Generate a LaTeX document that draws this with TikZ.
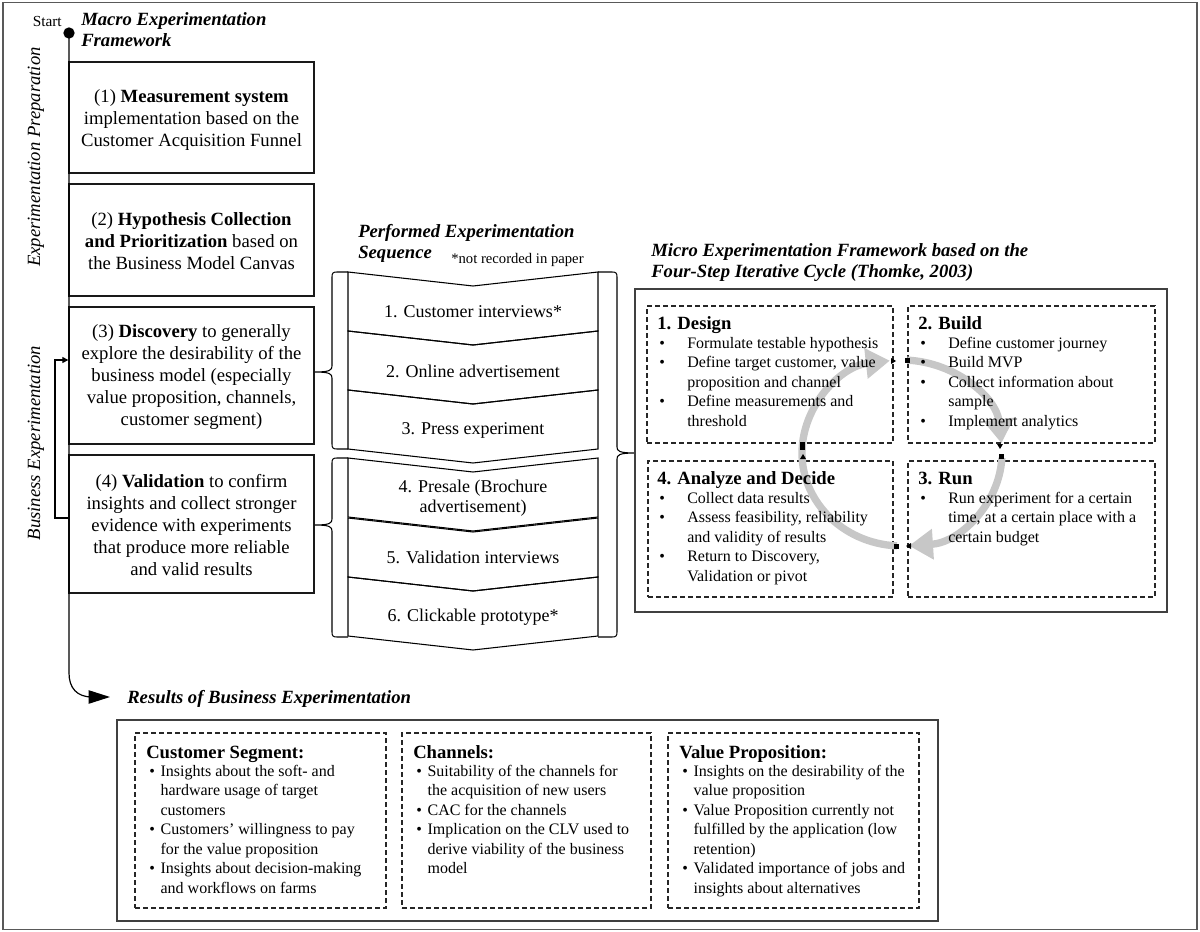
\documentclass[tikz,border=0pt]{standalone}
\usepackage{fontspec}
\setmainfont{Liberation Serif}
\usetikzlibrary{arrows.meta,fit,calc}
\newcommand{\mbul}{\makebox[21pt][l]{\textbullet}}
\newcommand{\mcont}{\hspace*{21pt}}
\newcommand{\rbul}{\makebox[8.5pt][l]{\textbullet}}
\newcommand{\rcont}{\hspace*{8.5pt}}
\begin{document}
\begin{tikzpicture}[x=0.75pt,y=-0.75pt,
  frame/.style={draw=black!65,line width=1.3pt},
  box/.style={draw=black!90,line width=1pt,inner sep=0pt},
  bigbox/.style={draw=black!75,line width=1.3pt,inner sep=0pt},
  dbox/.style={draw=black!85,line width=0.9pt,dash pattern=on 3.6pt off 2.4pt,inner sep=0pt},
  boxtxt/.style={align=center,inner sep=0pt,font=\fontsize{14}{16.5}\selectfont},
  chevtxt/.style={align=center,inner sep=0pt,font=\fontsize{13.5}{15}\selectfont},
  ttl/.style={align=left,inner sep=0pt,anchor=base west,font=\bfseries\itshape\fontsize{14}{15.4}\selectfont},
  sidelbl/.style={rotate=90,inner sep=0pt,font=\itshape\fontsize{14}{16}\selectfont},
  subttl/.style={inner sep=0pt,anchor=base west,font=\bfseries\fontsize{14}{16}\selectfont},
  body/.style={align=left,inner sep=0pt,anchor=base west,font=\fontsize{12}{14.6}\selectfont},
  line/.style={draw=black,line width=0.9pt},
  garrow/.style={draw=black!22,line width=5.5pt,-{Triangle[length=18pt,width=22pt]}},
  cmark/.style={fill=black}
]
\useasboundingbox (0,0) rectangle (1200,932);
\draw[frame] (3,2.5) rectangle (1197,929.5);

% ---------- Macro framework ----------
\node[circle,fill=black,inner sep=0pt,minimum size=8.5pt] (start) at (69,33) {};
\node[inner sep=0pt,anchor=base east,font=\fontsize{11.5}{13}\selectfont] (starttxt) at (62,26) {Start};
\node[ttl] (macro) at (81,46.5) {Macro Experimentation\\Framework};

\node[box,fit={(69,62)(314,173)}] (m1) {};
\node[box,fit={(69,184)(314,296)}] (m2) {};
\node[box,fit={(69,307)(314,444)}] (m3) {};
\node[box,fit={(69,455)(314,593)}] (m4) {};
\node[boxtxt] (t1) at (191.5,120) {(1) \textbf{Measurement system}\\implementation based on the\\Customer Acquisition Funnel};
\node[boxtxt] (t2) at (191.5,241) {(2) \textbf{Hypothesis Collection}\\\textbf{and Prioritization} based on\\the Business Model Canvas};
\node[boxtxt] (t3) at (191.5,377) {(3) \textbf{Discovery} to generally\\explore the desirability of the\\business model (especially\\value proposition, channels,\\customer segment)};
\node[boxtxt] (t4) at (191.5,525) {(4) \textbf{Validation} to confirm\\insights and collect stronger\\evidence with experiments\\that produce more reliable\\and valid results};

\node[sidelbl] (prep) at (36,157) {Experimentation Preparation};
\node[sidelbl] (bexp) at (36,443) {Business Experimentation};

\coordinate (arrend) at (110,697);
\draw[line,-{Triangle[length=16pt,width=10pt]}] (start.center) -- (69,673) .. controls (69,688) and (77,697) .. (92,697) -- (arrend);
\draw[line,-{Triangle[length=4.5pt,width=4.5pt]}] (m4.west |- 0,518) -- (55,518) -- (55,360) -- (m3.west |- 0,360);

\node[ttl] (restitle) at (127,703) {Results of Business Experimentation};

% ---------- Performed sequence ----------
\node[ttl] (seqtitle) at (358,258.5) {Performed Experimentation\\Sequence};
\node[inner sep=0pt,anchor=base west,font=\fontsize{11}{13}\selectfont] (note) at (451,263) {*not recorded in paper};

\foreach \yt in {272,331,390,458,518,577}{
  \draw[line,line width=0.8pt] (348,\yt) -- (473,\yt+14) -- (598,\yt) -- (598,\yt+59) -- (473,\yt+73) -- (348,\yt+59) -- cycle;
}
\node[chevtxt] (c1) at (473,312) {1. Customer interviews*};
\node[chevtxt] (c2) at (473,371) {2. Online advertisement};
\node[chevtxt] (c3) at (473,430) {3. Press experiment};
\node[chevtxt] (c4) at (473,498) {4. Presale (Brochure\\advertisement)};
\node[chevtxt] (c5) at (473,557) {5. Validation interviews};
\node[chevtxt] (c6) at (473,617) {6. Clickable prototype*};

% braces
\draw[line,line width=0.8pt] (348,272) -- (337,272) .. controls (333,272) and (332,273) .. (332,277) -- (332,366) .. controls (332,370) and (330,372) .. (315,372) .. controls (330,372) and (332,374) .. (332,378) -- (332,444) .. controls (332,448) and (333,449) .. (337,449) -- (348,449);
\draw[line,line width=0.8pt] (348,458) -- (337,458) .. controls (333,458) and (332,459) .. (332,463) -- (332,519) .. controls (332,523) and (330,525) .. (315,525) .. controls (330,525) and (332,527) .. (332,531) -- (332,632) .. controls (332,636) and (333,637) .. (337,637) -- (348,637);
\draw[line,line width=0.8pt] (598,272) -- (612,272) .. controls (616,272) and (617,273) .. (617,277) -- (617,447) .. controls (617,451) and (619,453) .. (635,453) .. controls (619,453) and (617,455) .. (617,459) -- (617,632) .. controls (617,636) and (616,637) .. (612,637) -- (598,637);

% ---------- Micro framework ----------
\node[ttl] (microtitle) at (651,277) {Micro Experimentation Framework based on the\\Four-Step Iterative Cycle (Thomke, 2003)};
\node[bigbox,fit={(635,289)(1167,612)}] (micro) {};
\node[dbox,fit={(647,306)(893,443)}] (design) {};
\node[dbox,fit={(908,306)(1155,443)}] (build) {};
\node[dbox,fit={(648,461)(893,597)}] (analyze) {};
\node[dbox,fit={(908,461)(1155,597)}] (run) {};

% cycle
\coordinate (cyc) at (902,453);
\draw[garrow] ($(cyc)+(93:100 and 93)$) arc[start angle=93,end angle=263,x radius=100,y radius=93];
\draw[garrow] ($(cyc)+(273:100 and 93)$) arc[start angle=273,end angle=354,x radius=100,y radius=93];
\draw[garrow] ($(cyc)+(3:100 and 93)$) arc[start angle=3,end angle=86,x radius=100,y radius=93];
% connection markers
\fill[cmark] (905,358) rectangle (910,363);
\fill[cmark] (891,358) -- (896,361) -- (891,364) -- cycle;
\fill[cmark] (999,454) rectangle (1004,459);
\fill[cmark] (997,444) -- (1003,444) -- (1000,449) -- cycle;
\fill[cmark] (800,442) rectangle (805,450);
\fill[cmark] (800,459) -- (806,459) -- (803,454) -- cycle;
\fill[cmark] (894,544) rectangle (899,549);
\fill[cmark] (911,543) -- (911,549) -- (906,546) -- cycle;

\node[subttl] (designttl) at (657,329) {1. Design};
\node[subttl] (buildttl) at (918,329) {2. Build};
\node[subttl] (analyzettl) at (657,484) {4. Analyze and Decide};
\node[subttl] (runttl) at (918,484) {3. Run};

% base anchor of multi-line nodes = baseline of last line
\node[body] (designtxt) at (659,426) {\mbul Formulate testable hypothesis\\\mbul Define target customer, value\\\mcont proposition and channel\\\mbul Define measurements and\\\mcont threshold};
\node[body] (buildtxt) at (920,426) {\mbul Define customer journey\\\mbul Build MVP\\\mbul Collect information about\\\mcont sample\\\mbul Implement analytics};
\node[body] (analyzetxt) at (659,581) {\mbul Collect data results\\\mbul Assess feasibility, reliability\\\mcont and validity of results\\\mbul Return to Discovery,\\\mcont Validation or pivot};
\node[body] (runtxt) at (920,542) {\mbul Run experiment for a certain\\\mcont time, at a certain place with a\\\mcont certain budget};

% ---------- Results ----------
\node[bigbox,fit={(117,720)(938,921)}] (results) {};
\node[dbox,fit={(135,733)(386,908)}] (cs) {};
\node[dbox,fit={(402,733)(651,908)}] (ch) {};
\node[dbox,fit={(668,733)(919,908)}] (vp) {};
\node[subttl] (csttl) at (146,758) {Customer Segment:};
\node[subttl] (chttl) at (413,758) {Channels:};
\node[subttl] (vpttl) at (679,758) {Value Proposition:};
\node[body] (cstxt) at (149,893) {\rbul Insights about the soft- and\\\rcont hardware usage of target\\\rcont customers\\\rbul Customers' willingness to pay\\\rcont for the value proposition\\\rbul Insights about decision-making\\\rcont and workflows on farms};
\node[body] (chtxt) at (416,873.5) {\rbul Suitability of the channels for\\\rcont the acquisition of new users\\\rbul CAC for the channels\\\rbul Implication on the CLV used to\\\rcont derive viability of the business\\\rcont model};
\node[body] (vptxt) at (682,893) {\rbul Insights on the desirability of the\\\rcont value proposition\\\rbul Value Proposition currently not\\\rcont fulfilled by the application (low\\\rcont retention)\\\rbul Validated importance of jobs and\\\rcont insights about alternatives};
\end{tikzpicture}
\end{document}
